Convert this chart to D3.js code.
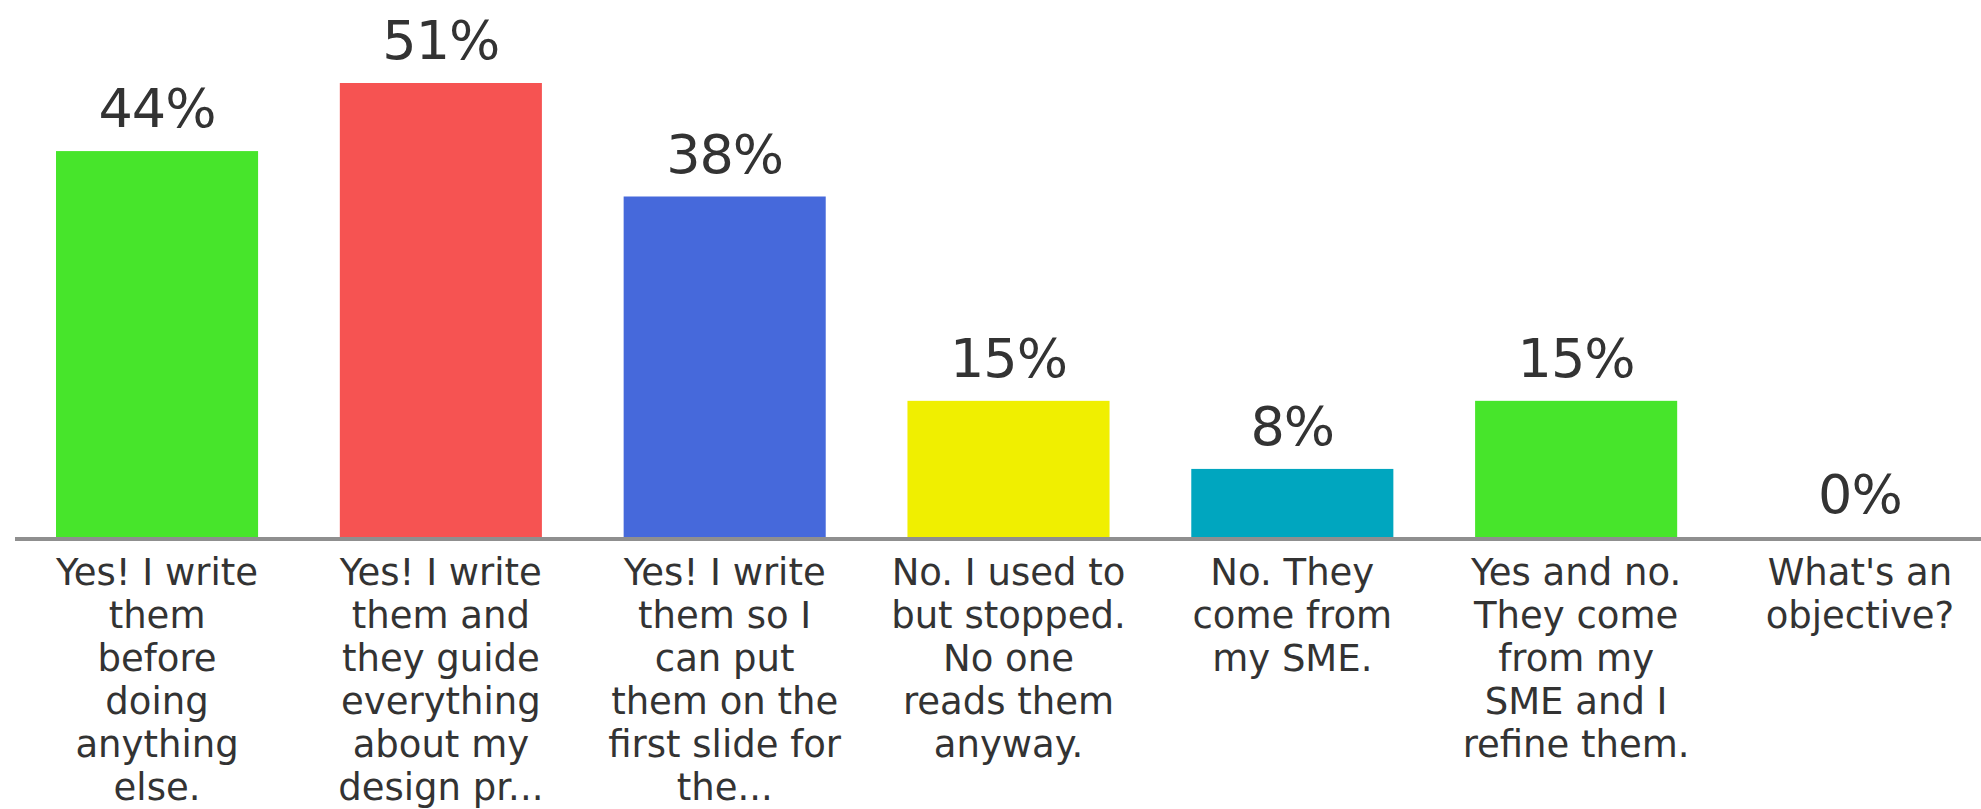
<!DOCTYPE html>
<html>
<head>
<meta charset="utf-8">
<script src="https://cdn.jsdelivr.net/npm/d3@7"></script>
<style>
  html, body { margin: 0; padding: 0; background: #fff; overflow: hidden; }
  svg { display: block; }
</style>
</head>
<body>
<script>
var width = 1981;
var height = 809;

// answer texts, already broken into lines the way the poll tool shows them
var categories = [
  "Yes! I write\nthem\nbefore\ndoing\nanything\nelse.",
  "Yes! I write\nthem and\nthey guide\neverything\nabout my\ndesign pr...",
  "Yes! I write\nthem so I\ncan put\nthem on the\nfirst slide for\nthe...",
  "No. I used to\nbut stopped.\nNo one\nreads them\nanyway.",
  "No. They\ncome from\nmy SME.",
  "Yes and no.\nThey come\nfrom my\nSME and I\nrefine them.",
  "What's an\nobjective?"
];
// share of votes in percent
var values = [43.59, 51.28, 38.46, 15.38, 7.69, 15.38, 0];
var colors = ["#47e52b", "#f65352", "#4669db", "#f0ef00", "#00a6bf", "#47e52b", "#47e52b"];

var baseY = 537;

var svg = d3.select("body").append("svg")
  .attr("width", width)
  .attr("height", height);

var xScale = d3.scaleBand()
  .domain(d3.range(categories.length))
  .range([56, 1961])
  .paddingInner(0.288)
  .paddingOuter(0);

var yScale = d3.scaleLinear()
  .domain([0, d3.max(values)])
  .range([baseY, 83]);

var fmt = d3.format(".0f");

svg.selectAll("rect.bar")
  .data(values)
  .enter()
  .append("rect")
  .attr("class", "bar")
  .attr("x", function(d, i){ return xScale(i); })
  .attr("y", function(d){ return yScale(d); })
  .attr("width", xScale.bandwidth())
  .attr("height", function(d){ return baseY - yScale(d); })
  .attr("fill", function(d, i){ return colors[i]; });

// baseline
svg.append("line")
  .attr("x1", 15)
  .attr("x2", width)
  .attr("y1", baseY + 2)
  .attr("y2", baseY + 2)
  .attr("stroke", "#8f8f8f")
  .attr("stroke-width", 4);

// value labels
svg.selectAll("text.value")
  .data(values)
  .enter()
  .append("text")
  .attr("class", "value")
  .attr("x", function(d, i){ return xScale(i) + xScale.bandwidth() / 2; })
  .attr("y", function(d){ return yScale(d) - 24; })
  .attr("text-anchor", "middle")
  .attr("font-family", "'DejaVu Sans', sans-serif")
  .attr("font-size", 54)
  .attr("letter-spacing", -1)
  .attr("fill", "#333")
  .text(function(d){ return fmt(d) + "%"; });

// category labels
var cat = svg.selectAll("text.cat")
  .data(categories)
  .enter()
  .append("text")
  .attr("class", "cat")
  .attr("text-anchor", "middle")
  .attr("font-family", "'DejaVu Sans', sans-serif")
  .attr("font-size", 37)
  .attr("fill", "#333");

cat.each(function(d, i){
  var t = d3.select(this);
  var cx = xScale(i) + xScale.bandwidth() / 2;
  d.split("\n").forEach(function(line, k){
    t.append("tspan")
      .attr("x", cx)
      .attr("y", 585 + k * 43)
      .text(line);
  });
});
</script>
</body>
</html>
